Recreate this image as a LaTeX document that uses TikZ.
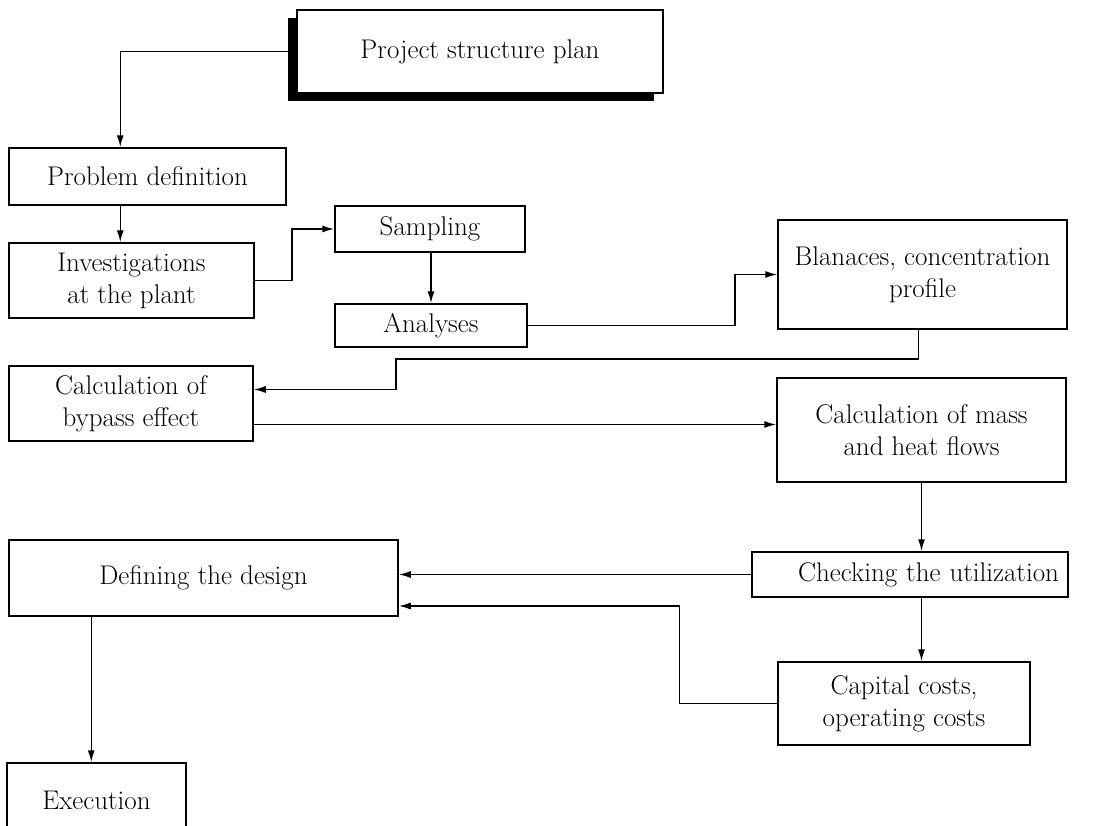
\documentclass[tikz,border=0pt]{standalone}
\usepackage{fontspec}
\usetikzlibrary{arrows.meta,calc,shadows}

\tikzset{
  box/.style={draw, line width=1.5pt, fill=white, align=center, inner sep=2pt,
    font=\fontsize{27}{32}\selectfont},
  conn/.style={line width=1.5pt},
  arr/.style={conn, -{Latex[length=12pt,width=7pt]}},
  plan/.style={box, drop shadow={shadow xshift=-9pt, shadow yshift=-8pt, fill=black, opacity=1}}
}

\begin{document}
\begin{tikzpicture}[x=1pt,y=-1pt]
			\useasboundingbox (0,0) rectangle (1111,825);
			\node[plan, minimum width=366pt, minimum height=83pt] (proj) at (480,51.5) {Project structure plan};
			\node[box, minimum width=277pt, minimum height=57pt] (prob) at (147.5,176.5) {Problem definition};
			\node[box, minimum width=245pt, minimum height=75pt] (inv) at (131.5,280.5) {Investigations\\at the plant};
			\node[box, minimum width=190pt, minimum height=46pt] (samp) at (430,229) {Sampling};
			\node[box, minimum width=192pt, minimum height=43pt] (ana) at (431,325.5) {Analyses};
			\node[box, minimum width=289pt, minimum height=109pt] (bal) at (922.5,274.5) {Blanaces, concentration\\profile};
			\node[box, minimum width=244pt, minimum height=75pt] (byp) at (131,403.5) {Calculation of\\bypass effect};
			\node[box, minimum width=289pt, minimum height=104pt] (mass) at (921.5,430) {Calculation of mass\\and heat flows};
			\node[box, inner xsep=9pt, text width=298pt, align=right, minimum height=45pt] (chk) at (910,574.5) {Checking the utilization};
			\node[box, minimum width=389pt, minimum height=76pt] (def) at (203.5,578) {Defining the design};
			\node[box, minimum width=252pt, minimum height=83pt] (cap) at (904,703.5) {Capital costs,\\operating costs};
			\node[box, minimum width=179pt, minimum height=74pt] (exe) at (96.5,800) {Execution};

			\coordinate (p1) at ($(prob.north west)+(112,0)$);
			\draw[arr] (proj.west) -| (p1);
			\coordinate (p2) at ($(prob.south west)+(112,0)$);
			\draw[arr] (p2) -- (p2 |- inv.north);
			\draw[arr] (inv.east) -- ++(37,0) |- (samp.west);
			\draw[arr] (samp.south -| ana.north) -- (ana.north);
			\draw[arr] (ana.east) -- ++(207,0) |- (bal.west);
			\coordinate (b1) at ($(byp.east)+(0,-14)$);
			\draw[arr] ($(bal.south)+(-4,0)$) -- ++(0,29) -| ($(b1)+(142,0)$) -- (b1);
			\coordinate (b2) at ($(byp.east)+(0,21)$);
			\draw[arr] (b2) -- (b2 -| mass.west);
			\draw[arr] (mass.south) -- (mass.south |- chk.north);
			\draw[arr] (mass.south |- chk.south) -- (mass.south |- cap.north);
			\draw[arr] (chk.west) -- (chk.west -| def.east);
			\draw[arr] (cap.west) -- ++(-98,0) |- ($(def.east)+(0,28)$);
			\coordinate (d1) at ($(def.south west)+(83,0)$);
			\draw[arr] (d1) -- (d1 |- exe.north);
\end{tikzpicture}
\end{document}
